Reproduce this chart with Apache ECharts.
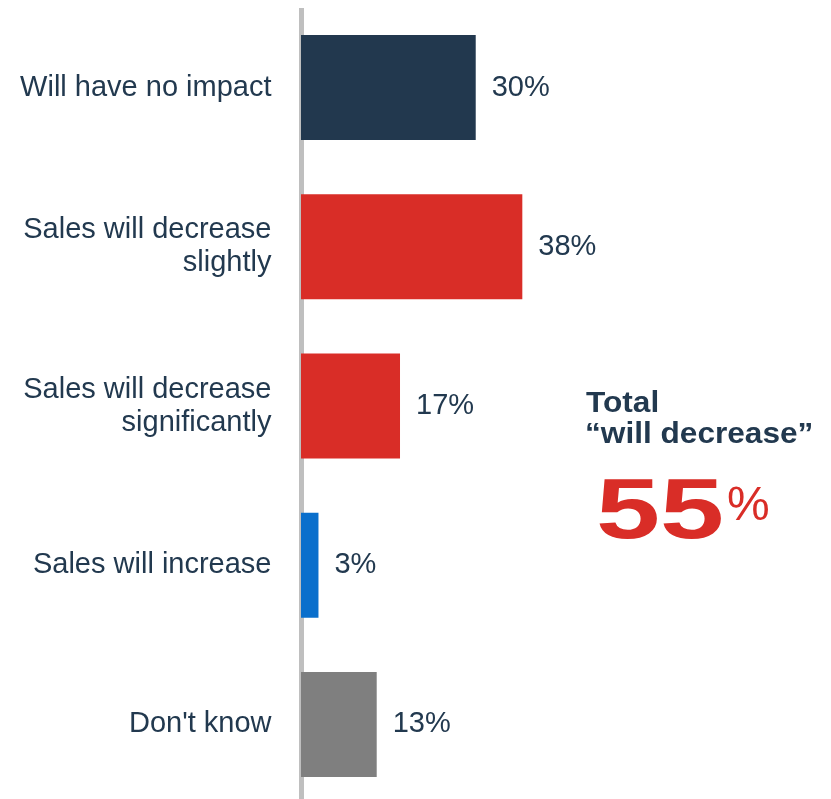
<!DOCTYPE html>
<html>
<head>
<meta charset="utf-8">
<script src="https://cdn.jsdelivr.net/npm/echarts@6/dist/echarts.min.js"></script>
<style>
  html, body { margin: 0; padding: 0; background: #ffffff; height: 799px; overflow: hidden; }
  /* the plot runs a few pixels past the lower edge, so the axis line reaches the bottom */
  #chart { width: 831px; height: 804px; }
</style>
</head>
<body>
<div id="chart"></div>
<script>
// Survey responses: expected effect on sales
const categories = [
  'Will have no impact',
  'Sales will decrease\nslightly',
  'Sales will decrease\nsignificantly',
  'Sales will increase',
  "Don't know"
];
const values = [30, 38, 17, 3, 13];
const barColors = ['#22384e', '#d92d27', '#d92d27', '#0a6fcc', '#7f7f7f'];

// Callout: total share of "decrease" answers
const totalTitle = ['Total', '\u201cwill decrease\u201d'];
const totalValue = '55';

const textColor = '#22394f';
const font = '"Liberation Sans", Arial, sans-serif';

const chart = echarts.init(document.getElementById('chart'), null, { renderer: 'canvas' });

chart.setOption({
  animation: false,
  backgroundColor: '#ffffff',
  grid: { left: 301, top: 8, right: 0, bottom: 0 },
  xAxis: {
    type: 'value',
    min: 0,
    max: 91,
    show: false
  },
  yAxis: {
    type: 'category',
    data: categories,
    inverse: true,
    offset: 2.5,
    axisLine: { show: true, lineStyle: { color: '#bfbfbf', width: 5, cap: 'butt' } },
    axisTick: { show: false },
    axisLabel: {
      margin: 27,
      color: textColor,
      fontFamily: font,
      fontSize: 29,
      lineHeight: 33,
      align: 'right'
    }
  },
  series: [{
    type: 'bar',
    barWidth: 105,
    data: values.map((v, i) => ({ value: v, itemStyle: { color: barColors[i] } })),
    label: {
      show: true,
      position: 'right',
      distance: 16,
      formatter: '{c}%',
      color: textColor,
      fontFamily: font,
      fontSize: 29
    }
  }],
  graphic: [
    {
      type: 'text', x: 586, y: 404, scaleX: 1.09,
      style: { text: totalTitle[0], fill: textColor, font: 'bold 29px ' + font, verticalAlign: 'middle' }
    },
    {
      type: 'text', x: 585, y: 435, scaleX: 1.09,
      style: { text: totalTitle[1], fill: textColor, font: 'bold 29px ' + font, verticalAlign: 'middle' }
    },
    {
      type: 'text', x: 596, y: 514, scaleX: 1.34,
      style: { text: totalValue, fill: '#d92d27', font: 'bold 86px ' + font, verticalAlign: 'middle' }
    },
    {
      type: 'text', x: 727, y: 507,
      style: { text: '%', fill: '#d92d27', font: '48px ' + font, verticalAlign: 'middle' }
    }
  ]
});
</script>
</body>
</html>
